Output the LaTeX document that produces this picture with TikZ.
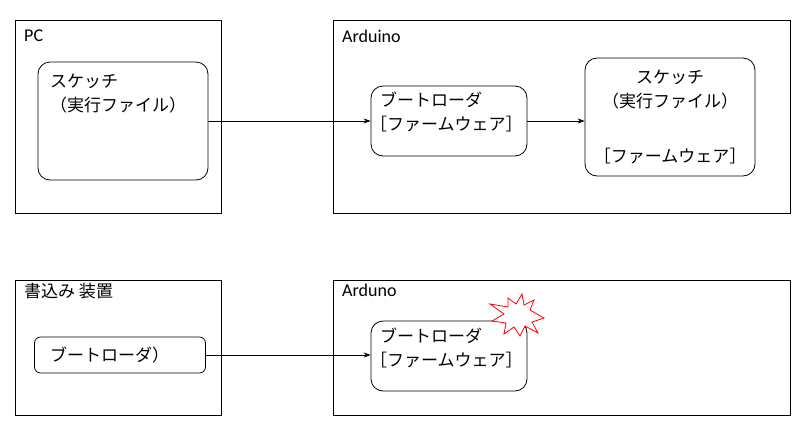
\documentclass[tikz,border=0pt]{standalone}
\usetikzlibrary{arrows.meta}
\usepackage{fontspec}
\setmainfont{Noto Sans CJK JP}
\newfontfamily\lat{Carlito}
\begin{document}
\begin{tikzpicture}[x=1pt,y=-1pt,
  frame/.style={draw,line width=0.8pt},
  rbox/.style={draw,line width=0.8pt,rounded corners=12pt},
  lbl/.style={anchor=north west,inner sep=0pt,font=\fontsize{17}{18}\selectfont},
  txt/.style={font=\fontsize{17}{24}\selectfont,align=left,inner sep=0pt},
  arr/.style={-{Stealth[length=7pt,width=5pt]},line width=0.6pt}]
\useasboundingbox (0,0) rectangle (803,432);
\draw[frame] (15,20) rectangle (221,213);
\draw[frame] (333,20) rectangle (790,213);
\draw[frame] (15,280) rectangle (221,415);
\draw[frame] (333,280) rectangle (790,415);
\node[lbl] (pc) at (24,30) {\lat\fontsize{18}{20}\selectfont PC};
\node[lbl] (ar1) at (342,30) {\lat\fontsize{18}{20}\selectfont Arduino};
\node[lbl] (wr) at (24,283) {書込み 装置};
\node[lbl] (ar2) at (342,284) {\lat\fontsize{18}{20}\selectfont Arduno};
% nodes
\node[rbox,minimum width=170pt,minimum height=118pt] (sk) at (123,121) {};
\node[txt,anchor=north west] at (50,74) {スケッチ\\（実行ファイル）};
\node[rbox,minimum width=156pt,minimum height=70pt] (bl) at (449,121) {};
\node[txt,anchor=north west] at (380,92) {ブートローダ};
\node[txt,anchor=north west] at (370,116) {［ファームウェア］};
\node[rbox,minimum width=170pt,minimum height=118pt] (sk2) at (670,117) {};
\node[txt,align=center] at (670,90) {スケッチ\\（実行ファイル）};
\node[txt] at (670,156) {［ファームウェア］};
\node[rbox,rounded corners=6pt,minimum width=171pt,minimum height=36pt] (bw) at (120,355) {};
\node[txt,anchor=west] at (50,355) {ブートローダ）};
\node[rbox,minimum width=156pt,minimum height=70pt] (bl2) at (449,356) {};
\node[txt,anchor=north west] at (380,328) {ブートローダ};
\node[txt,anchor=north west] at (370,352) {［ファームウェア］};
\draw[arr] (sk.east) -- (sk.east -| bl.west);
\draw[arr] (bl.east) -- (bl.east -| sk2.west);
\draw[arr] (bw.east) -- (bw.east -| bl2.west);
% starburst
\draw[red,fill=white,line width=0.8pt]
 (544,318)--(532,322)--(538,333)--(525,326)--(520,336)--(514,327)--(504,334)--(506,323)--(492,321)--(504,314)--(490,304)--(508,307)--(508,298)--(516,304)--(522,294)--(524,305)--(534,300)--(530,310)--cycle;
\end{tikzpicture}
\end{document}
